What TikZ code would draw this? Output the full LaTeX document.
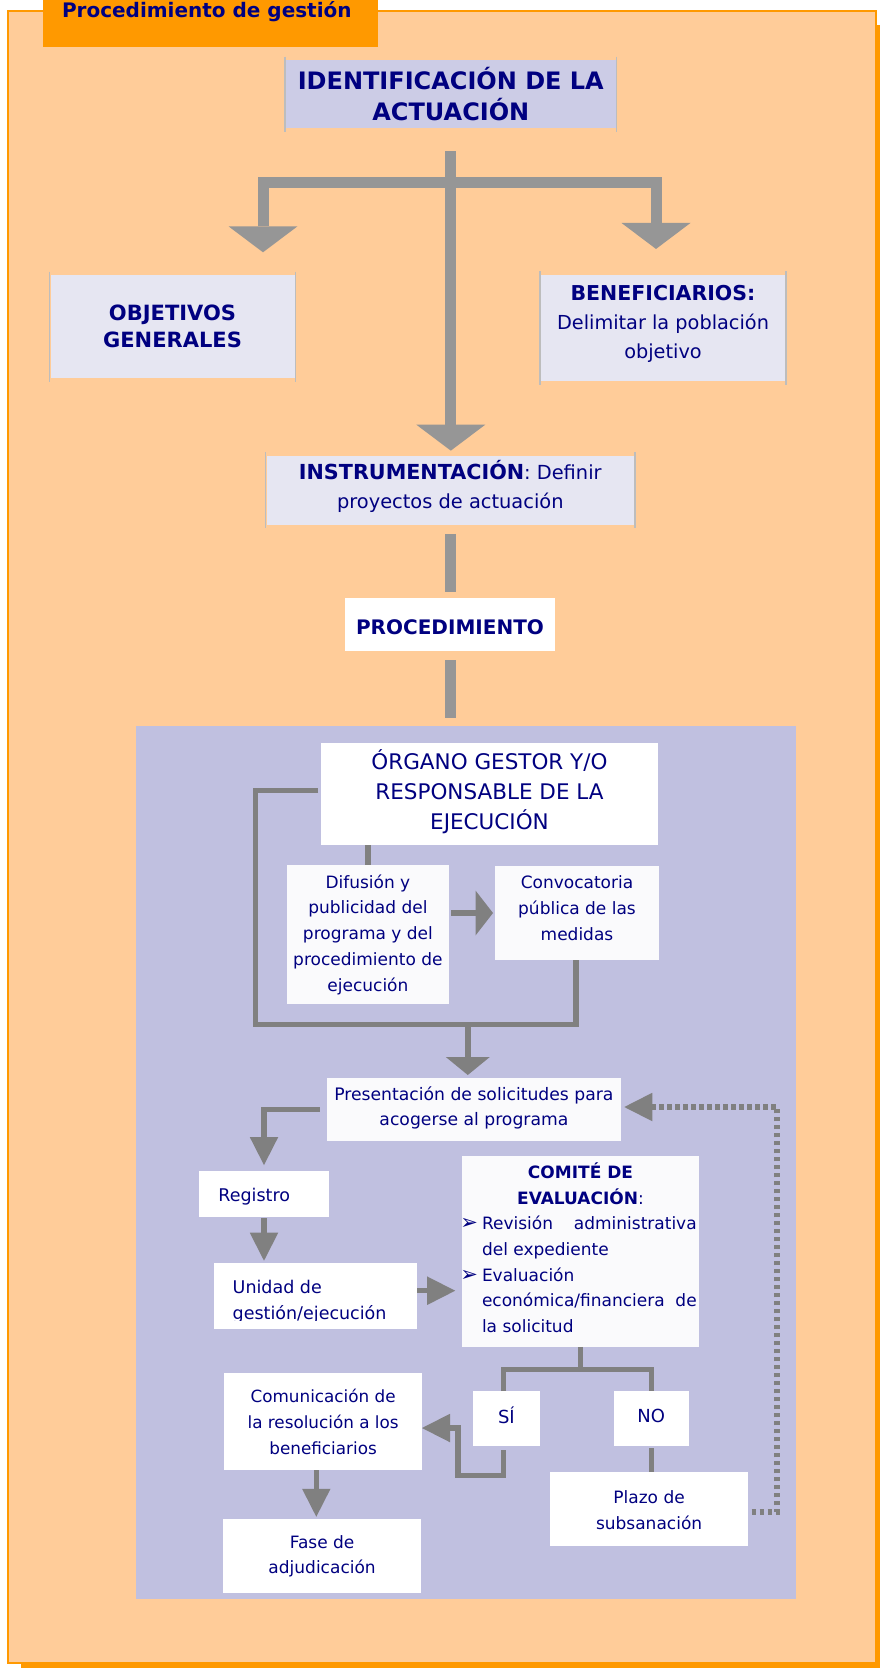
\documentclass[tikz,border=0pt]{standalone}
\usepackage{fontspec}
\setmainfont{DejaVu Sans}
\usetikzlibrary{arrows.meta}

\definecolor{peach}{HTML}{FFCC99}
\definecolor{orangeband}{HTML}{FF9900}
\definecolor{panelfill}{HTML}{C0C0E0}
\definecolor{identfill}{HTML}{CCCCE6}
\definecolor{palefill}{HTML}{E6E6F2}
\definecolor{navytext}{HTML}{000080}
\definecolor{barupper}{HTML}{969696}
\definecolor{barlower}{HTML}{808080}
\definecolor{sidegrey}{HTML}{BDBDBD}
\definecolor{offwhite}{HTML}{FAFAFC}

\newcommand{\fsz}[2]{\fontsize{#1}{#2}\selectfont}
\newcommand{\pointer}{{\fsz{21}{21}➢}}

\begin{document}
\begin{tikzpicture}[x=1pt, y=-1pt,
  every node/.style={inner sep=0pt, outer sep=0pt, text=navytext},
  softbox/.style={fill=palefill, align=center},
  whitebox/.style={fill=white, align=center},
  paperbox/.style={fill=offwhite, align=center},
  caption/.style={align=center},
  sideline/.style={draw=sidegrey, line width=1.3pt},
  upbar/.style={draw=barupper, line width=11pt, line join=miter},
  lowbar/.style={draw=barlower, line width=5.5pt, line join=miter},
  dotbar/.style={draw=barlower, line width=6pt, line join=miter, dash pattern=on 4.7pt off 3.3pt},
  bighead/.style={-{Triangle[width=69pt,length=26pt,line width=0pt]}},
  bothheads/.style={{Triangle[width=69pt,length=26pt,line width=0pt]}-{Triangle[width=69pt,length=26pt,line width=0pt]}},
  midhead/.style={-{Triangle[width=44pt,length=18pt,line width=0pt]}},
  smallhead/.style={-{Triangle[width=28.5pt,length=28pt,line width=0pt]}},
]
\useasboundingbox (0,0) rectangle (880,1668);

% page sheet with its offset shadow
\fill[orangeband] (21,25) rectangle (880,1668);
\draw[orangeband, fill=peach, line width=2pt] (8.2,10.5) rectangle (876,1663.3);

% title tab
\node[fill=orangeband, minimum width=335pt, minimum height=46.7pt, anchor=north west] (tab) at (42.7,0) {};
\node[anchor=base west, font=\bfseries\fsz{20}{24}] (tabtitle) at (62,17) {Procedimiento de gestión};

% upper part
\node[fill=identfill, minimum width=329.6pt, minimum height=68pt, align=center,
      font=\bfseries\fsz{24}{31.7}] (ident) at (450.8,94) {IDENTIFICACIÓN DE LA\\ACTUACIÓN};
\node[softbox, minimum width=244pt, minimum height=103pt, font=\bfseries\fsz{21}{26.6}]
      (obj) at (172.5,326.5) {OBJETIVOS\\GENERALES};
\node[softbox, minimum width=244pt, minimum height=106.5pt] (ben) at (663,328.2) {};
\node[caption, font=\fsz{19.3}{29}] (bentext) at ([yshift=4.8pt]ben.center)
      {{\bfseries\fsz{20.5}{29}BENEFICIARIOS:}\\Delimitar la población\\objetivo};
\node[softbox, minimum width=367.3pt, minimum height=69.3pt] (instr) at (450.3,490.3) {};
\node[caption, font=\fsz{19.4}{28.5}] (instrtext) at ([yshift=3.7pt]instr.center)
      {{\bfseries\fsz{20.7}{28.5}INSTRUMENTACIÓN}: Definir\\proyectos de actuación};
\foreach \b in {ident,obj,ben,instr}{
  \draw[sideline] ([xshift=-1pt,yshift=3.5pt]\b.north west) -- ([xshift=-1pt,yshift=-3.5pt]\b.south west);
  \draw[sideline] ([xshift=1pt,yshift=3.5pt]\b.north east) -- ([xshift=1pt,yshift=-3.5pt]\b.south east);
}
\node[fill=white, minimum width=210pt, minimum height=52.4pt] (proc) at (450,624.5) {};
\node[font=\bfseries\fsz{20}{24}] (proctext) at ([yshift=-3pt]proc.center) {PROCEDIMIENTO};

% upper connectors
\draw[upbar, bighead, shorten <=23pt, shorten >=5pt] (ident.south) -- (ident.south |- instr.north);
\draw[upbar, bothheads] ([xshift=90.5pt,yshift=22.7pt]obj.north) |- ([yshift=-54pt]ident.south)
      -| ([xshift=-7pt,yshift=26pt]ben.north);
\draw[upbar, shorten <=9pt, shorten >=6.6pt] (instr.south) -- (instr.south |- proc.north);

% procedure panel
\node[fill=panelfill, minimum width=659.5pt, minimum height=873.3pt, anchor=north west] (panel) at (136,726) {};
\draw[upbar, shorten <=9.3pt, shorten >=8.3pt] (proc.south) -- (proc.south |- panel.north);

\node[whitebox, minimum width=337.4pt, minimum height=102pt] (org) at (489.5,794) {};
\node[caption, font=\fsz{21.5}{30}] (orgtext) at ([yshift=2.7pt]org.center)
      {ÓRGANO GESTOR Y/O\\RESPONSABLE DE LA\\EJECUCIÓN};
\node[paperbox, minimum width=161.7pt, minimum height=139.3pt, font=\fsz{17}{25.8}]
      (dif) at (367.9,934.7) {Difusión y\\publicidad del\\programa y del\\procedimiento de\\ejecución};
\node[paperbox, minimum width=164pt, minimum height=94pt] (conv) at (577,913) {};
\node[caption, font=\fsz{17}{25.9}] (convtext) at ([yshift=4.8pt]conv.center)
      {Convocatoria\\pública de las\\medidas};
\node[paperbox, minimum width=294pt, minimum height=62.4pt] (pres) at (473.9,1109.5) {};
\node[caption, font=\fsz{17.2}{25}] (prestext) at ([yshift=2pt]pres.center)
      {Presentación de solicitudes para\\acogerse al programa};
\node[whitebox, minimum width=130pt, minimum height=45.7pt] (reg) at (264,1193.9) {};
\node[anchor=west, font=\fsz{17.5}{22}] (regtext) at ([xshift=19.4pt,yshift=-3pt]reg.west) {Registro};
\node[whitebox, minimum width=203pt, minimum height=66.6pt] (uni) at (315.5,1296) {};
\begin{scope}
  \clip (uni.north west) rectangle ([yshift=8.5pt]uni.south east);
  \node[anchor=north west, align=left, font=\fsz{17.5}{26.6}] (unitext) at (232.7,1279.7)
        {Unidad de\\gestión/ejecución};
\end{scope}
\node[paperbox, minimum width=237pt, minimum height=190.7pt] (com) at (580.5,1251.4) {};
\node[text width=235pt, align=justify, font=\fsz{17}{25.6}] (comtext) at ([yshift=3.7pt]com.center) {%
  {\centering\bfseries COMITÉ DE\\EVALUACIÓN{\mdseries:}\par}%
  \parindent=0pt\leftskip=19pt\rightskip=1.3pt\parfillskip=0pt plus 1fil
  \noindent\llap{\pointer\hspace{4pt}}Revisión administrativa\linebreak del expediente\par
  \noindent\llap{\pointer\hspace{4pt}}Evaluación\newline económica/financiera de\linebreak la solicitud\par};
\node[whitebox, minimum width=67.3pt, minimum height=55pt] (si) at (506.4,1418.5) {};
\node[font=\fsz{18}{22}] (sitext) at ([yshift=3pt]si.center) {SÍ};
\node[whitebox, minimum width=74.6pt, minimum height=55pt] (no) at (651.3,1418.5) {};
\node[font=\fsz{18}{22}] (notext) at ([yshift=3pt]no.center) {NO};
\node[whitebox, minimum width=197.8pt, minimum height=96.7pt, font=\fsz{16.8}{25.9}]
      (comu) at (323.1,1421.7) {Comunicación de\\la resolución a los\\beneficiarios};
\node[whitebox, minimum width=197.8pt, minimum height=73.7pt, font=\fsz{17}{25}]
      (fase) at (322.1,1555.9) {Fase de\\adjudicación};
\node[whitebox, minimum width=198.2pt, minimum height=73.4pt] (plazo) at (649.1,1509) {};
\node[caption, font=\fsz{17}{26}] (plazotext) at ([yshift=-1.5pt]plazo.center) {Plazo de\\subsanación};

% procedure connectors
\coordinate (loopbase) at (467.8,1024.5);
\coordinate (sibend) at (457.8,1475.5);
\coordinate (dotturn) at (777.3,1107);
\draw[lowbar] ([xshift=-2.8pt,yshift=3.3pt]org.west) -| ([xshift=-31.7pt]dif.west |- loopbase)
      -| ([xshift=-1pt]conv.south);
\draw[lowbar] (dif.north |- org.south) -- (dif.north);
\draw[lowbar, -{Triangle[width=45pt,length=17.5pt,line width=0pt]}, shorten <=2.3pt, shorten >=2pt]
      (dif.east |- conv.west) -- (conv.west);
\draw[lowbar, midhead, shorten >=3.3pt] (loopbase) -- (loopbase |- pres.north);
\draw[lowbar, smallhead, shorten <=7.4pt, shorten >=6pt] (pres.west) -| (reg.north);
\draw[lowbar, smallhead, shorten <=1.5pt, shorten >=2pt] (reg.south) -- (reg.south |- uni.north);
\draw[lowbar, smallhead, shorten >=6.8pt] ([yshift=5.3pt]uni.east) -- ([yshift=5.3pt]uni.east -| com.west);
\draw[lowbar] (com.south) -- ([yshift=-22.7pt]com.south);
\draw[lowbar] ([xshift=-3pt]si.north) |- ([yshift=-22.7pt]com.south) -| (no.north);
\draw[lowbar, smallhead, shorten <=4pt] ([xshift=-3pt]si.south) |- (sibend) |- ([yshift=-6.3pt]comu.east);
\draw[lowbar, smallhead, shorten >=2.3pt] ([xshift=-6.8pt]comu.south) -- ([xshift=-6.8pt]comu.south |- fase.north);
\draw[lowbar, shorten <=2.3pt] (no.south) -- (no.south |- plazo.north);
\draw[dotbar, smallhead, shorten >=3.4pt] ([xshift=3.4pt,yshift=-2.7pt]plazo.east) -| (dotturn)
      -- (dotturn -| pres.east);
\end{tikzpicture}
\end{document}
